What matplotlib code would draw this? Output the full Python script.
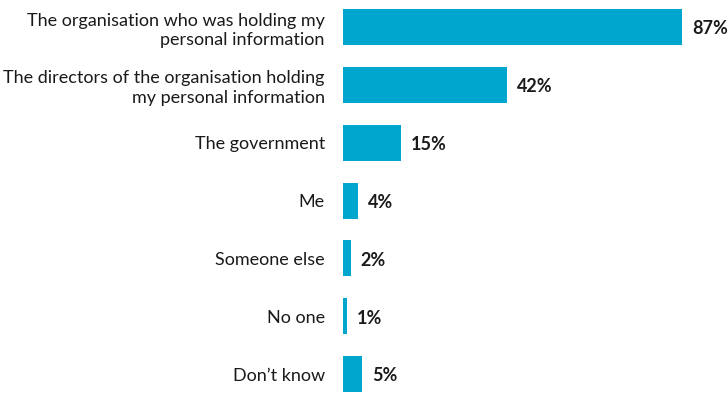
import matplotlib
matplotlib.use("Agg")
import matplotlib.pyplot as plt

# Chart data
categories = [
    "The organisation who was holding my\npersonal information",
    "The directors of the organisation holding\nmy personal information",
    "The government",
    "Me",
    "Someone else",
    "No one",
    "Don\u2019t know",
]
values = [87, 42, 15, 4, 2, 1, 5]

BAR_COLOR = "#00a6ce"
TEXT_COLOR = "#1a1a1a"

plt.rcParams['font.family'] = ['Lato', 'DejaVu Sans']

fig = plt.figure(figsize=(7.28, 3.99), dpi=100)
ax = fig.add_axes([0.471, 0.0, 0.529, 1.0])

ypos = list(range(len(categories)))
ax.barh(ypos, values, height=0.62, color=BAR_COLOR)

# value labels
for y, v in zip(ypos, values):
    ax.text(v + 2.5, y + 0.03, f"{v}%", va="center", ha="left",
            fontsize=13, fontweight="bold", color=TEXT_COLOR)

ax.set_yticks(ypos)
ax.set_yticklabels(categories, fontsize=13, color=TEXT_COLOR, ha="right",
                   linespacing=1.3)
ax.tick_params(axis="y", length=0, pad=13)
ax.set_xticks([])

ax.set_xlim(0, 98.7)
ax.set_ylim(6.43, -0.467)
for s in ax.spines.values():
    s.set_visible(False)

fig.savefig("out.png", dpi=100)
